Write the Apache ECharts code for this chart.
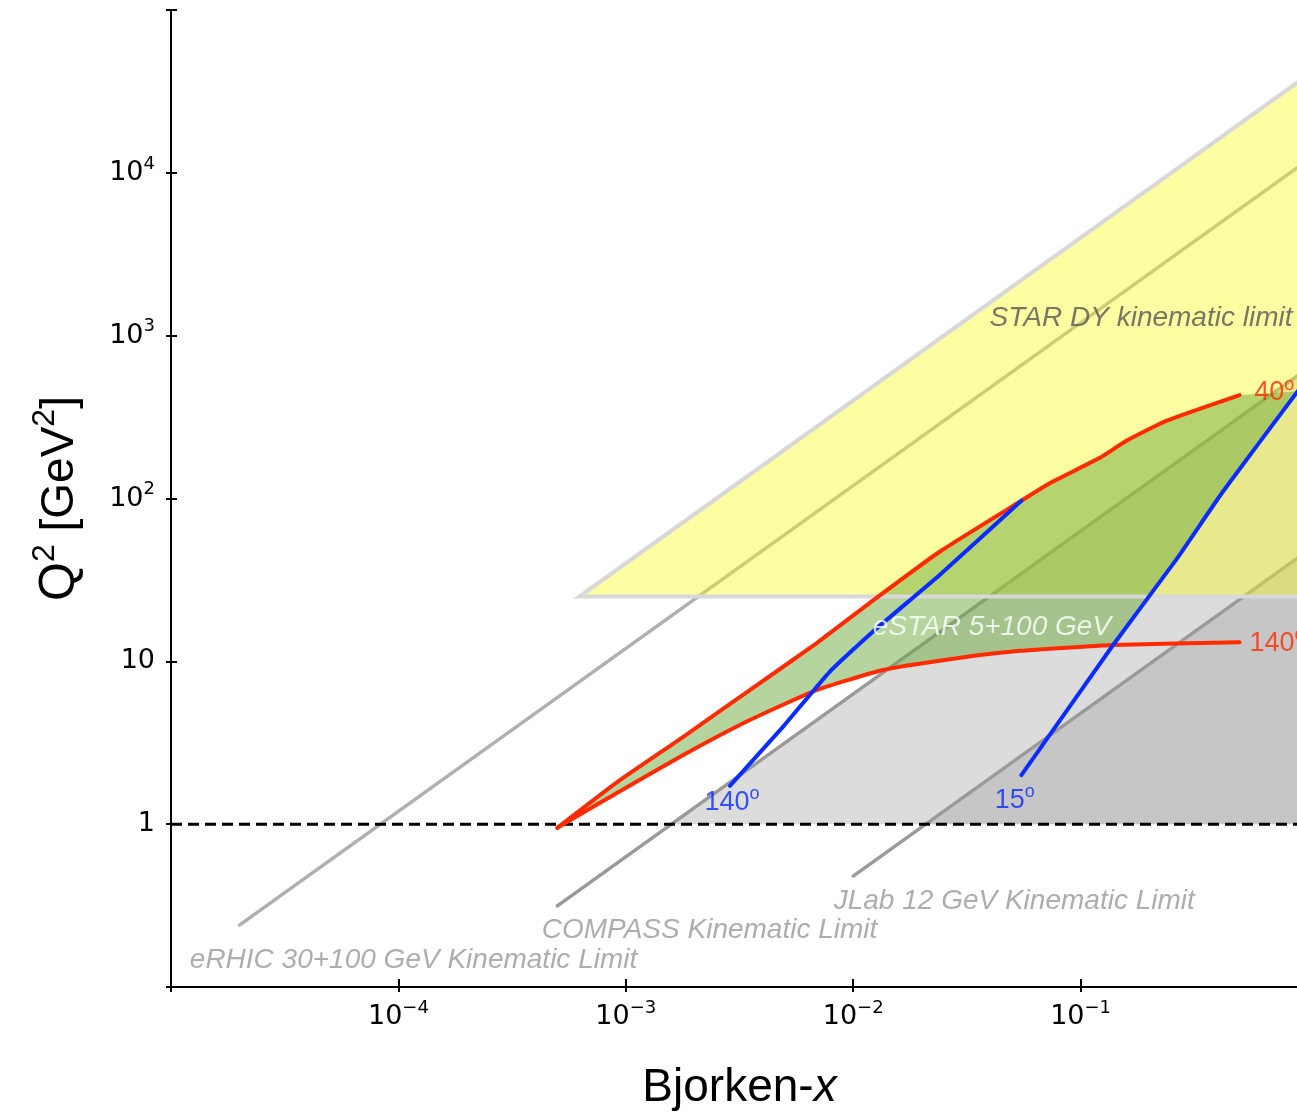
<!DOCTYPE html>
<html><head><meta charset="utf-8">
<script src="https://cdn.jsdelivr.net/npm/echarts@6/dist/echarts.min.js"></script>
<style>html,body{margin:0;padding:0;background:#fff}#c{width:1297px;height:1114px}</style>
</head><body><div id="c"></div>
<script>
// ---- tick labels (indexed by decade exponent) ----
const xTickLabels = { '-5': '', '-4': '10{s|−4}', '-3': '10{s|−3}', '-2': '10{s|−2}', '-1': '10{s|−1}', '0': '' };
const yTickLabels = { '-1': '', '0': '1', '1': '10', '2': '10{s|2}', '3': '10{s|3}', '4': '10{s|4}', '5': '' };

// ---- kinematic limit lines [x, Q2] ----
const eRHIC = [[2e-5, 0.24], [1, 12000]];
const compass = [[5e-4, 0.315], [1, 630]];
const jlab = [[1e-2, 0.48], [1, 48]];
const starDY = [[1, 40000], [6.25e-4, 25], [1, 25]];

// ---- shaded regions [x, Q2] ----
const compassRegion = [[1.59e-3, 1], [1, 1], [1, 630]];
const jlabRegion = [[2.08e-2, 1], [1, 1], [1, 48]];
const starRegion = [[6.25e-4, 25], [1, 25], [1, 40000]];

// ---- eSTAR acceptance curves [x, Q2] ----
const red40 = [[5.0e-4, 0.95], [9.1e-4, 1.8], [1.79e-3, 3.44], [3.51e-3, 6.66], [6.89e-3, 12.9],
  [1.22e-2, 23.6], [2.40e-2, 47.1], [5.49e-2, 96.9], [7.31e-2, 124], [0.121, 177], [0.159, 226], [0.238, 300], [0.5, 432]];
const red140 = [[5.0e-4, 0.95], [9.1e-4, 1.55], [1.79e-3, 2.66], [3.51e-3, 4.36], [6.89e-3, 6.66],
  [1.35e-2, 8.84], [2.66e-2, 10.3], [5.39e-2, 11.6], [0.139, 12.6], [0.5, 13.1]];
const blue140 = [[2.87e-3, 1.72], [4.91e-3, 3.96], [7.88e-3, 8.63], [1.22e-2, 15.2], [2.40e-2, 33.9], [5.49e-2, 96.9]];
const blue15 = [[5.49e-2, 2.0], [0.139, 12.6], [0.263, 42], [0.422, 110], [0.9, 455]];

// green eSTAR region built from the curves above
const estarRegion = red40
  .concat(blue15.slice(1).reverse())
  .concat(red140.filter(p => p[0] < blue15[1][0]).reverse());

// ---- text annotations: [text, anchor x, anchor Q2, style] ----
const notes = [
  ['STAR DY kinematic limit', 0.0398, 1285, 'dy'],
  ['eSTAR 5+100 GeV', 0.01218, 16.2, 'estar'],
  ['eRHIC 30+100 GeV Kinematic Limit', 1.21e-5, 0.146, 'lim'],
  ['COMPASS Kinematic Limit', 4.27e-4, 0.223, 'lim'],
  ['JLab 12 GeV Kinematic Limit', 8.21e-3, 0.336, 'lim'],
  ['140{o|o}', 2.22e-3, 1.365, 'blue'],
  ['15{o|o}', 0.0419, 1.405, 'blue'],
  ['40{o|o}', 0.58, 445, 'red'],
  ['140{o|o}', 0.553, 12.94, 'red']
];

const SANS = 'Liberation Sans, Arial, Helvetica, sans-serif';
const TICKFONT = 'DejaVu Sans, sans-serif';
function degRich(color) {
  return { o: { color: color, fontSize: 18, fontFamily: SANS, verticalAlign: 'top', lineHeight: 18 } };
}
const noteStyles = {
  dy: { color: '#555', fontSize: 28, fontStyle: 'italic', fontFamily: SANS },
  estar: { color: '#fff', fontSize: 28, fontStyle: 'italic', fontFamily: SANS },
  lim: { color: '#999', fontSize: 28, fontStyle: 'italic', fontFamily: SANS },
  blue: { color: '#0a2cff', fontSize: 27, lineHeight: 34, fontFamily: SANS, rich: degRich('#0a2cff') },
  red: { color: '#ff2a00', fontSize: 27, lineHeight: 34, fontFamily: SANS, rich: degRich('#ff2a00') }
};

function polygon(points, fill, z) {
  return {
    type: 'custom', coordinateSystem: 'cartesian2d', xAxisIndex: 0, yAxisIndex: 0,
    silent: true, z: z, clip: true, data: [points[0]],
    renderItem: function (params, api) {
      return { type: 'polygon', shape: { points: points.map(p => api.coord(p)) }, style: { fill: fill } };
    }
  };
}
function line(data, color, width, z, extra) {
  return Object.assign({
    type: 'line', data: data, xAxisIndex: 0, yAxisIndex: 0, showSymbol: false, symbol: 'none', silent: true, z: z,
    lineStyle: { color: color, width: width, cap: 'round', join: 'round' }
  }, extra || {});
}
const curve = { smooth: 0.15 };

const supRich = { s: { fontSize: 18, fontFamily: TICKFONT, color: '#000', verticalAlign: 'top', lineHeight: 18 } };

const gridBox = { left: 171, top: 10, width: 1137, height: 977, outerBoundsMode: 'none', containLabel: false };

const option = {
  animation: false,
  backgroundColor: '#fff',
  grid: [Object.assign({}, gridBox), Object.assign({}, gridBox)],
  xAxis: [{
    type: 'log', logBase: 10, min: 1e-5, max: 1, splitNumber: 5, gridIndex: 0, position: 'bottom',
    axisLine: { show: true, lineStyle: { color: '#000', width: 2 } },
    axisTick: { show: true, inside: false, length: 5, lineStyle: { color: '#000', width: 2 } },
    minorTick: { show: false }, splitLine: { show: false },
    axisLabel: {
      margin: 12, fontSize: 27, lineHeight: 36, fontFamily: TICKFONT, color: '#000', rich: supRich,
      formatter: v => { const e = Math.round(Math.log10(v)); return xTickLabels[String(e)] || ''; }
    },
    name: '{n|Bjorken-}{i|x}', nameLocation: 'middle', nameGap: 78,
    nameTextStyle: { rich: { n: { fontSize: 46, fontFamily: SANS, color: '#000' }, i: { fontSize: 46, fontFamily: SANS, fontStyle: 'italic', color: '#000' } } }
  }, {
    type: 'log', logBase: 10, min: 1e-5, max: 1, splitNumber: 5, gridIndex: 1, position: 'bottom',
    axisLine: { show: false }, axisLabel: { show: false }, splitLine: { show: false },
    axisTick: { show: true, inside: true, length: 8, lineStyle: { color: '#000', width: 2 } }
  }],
  yAxis: [{
    type: 'log', logBase: 10, min: 0.1, max: 1e5, splitNumber: 6, gridIndex: 0, position: 'left',
    axisLine: { show: true, lineStyle: { color: '#000', width: 2 } },
    axisTick: { show: true, inside: false, length: 5, lineStyle: { color: '#000', width: 2 } },
    minorTick: { show: false }, splitLine: { show: false },
    axisLabel: {
      margin: 16, fontSize: 27, lineHeight: 36, fontFamily: TICKFONT, color: '#000', rich: supRich,
      formatter: v => { const e = Math.round(Math.log10(v)); return yTickLabels[String(e)] || ''; }
    },
    name: '{q|Q}{s|2}{n| [GeV}{s|2}{n|]}', nameLocation: 'middle', nameRotate: 90, nameGap: 80,
    nameTextStyle: { rich: {
      q: { fontSize: 50, lineHeight: 62, fontFamily: SANS, color: '#000' },
      n: { fontSize: 46, lineHeight: 62, fontFamily: SANS, color: '#000' },
      s: { fontSize: 32, lineHeight: 32, fontFamily: SANS, color: '#000', verticalAlign: 'top' }
    } }
  }, {
    type: 'log', logBase: 10, min: 0.1, max: 1e5, splitNumber: 6, gridIndex: 1, position: 'left',
    axisLine: { show: false }, axisLabel: { show: false }, splitLine: { show: false },
    axisTick: { show: true, inside: true, length: 6, lineStyle: { color: '#000', width: 2 } }
  }],
  series: [
    polygon(compassRegion, 'rgba(160,160,160,0.37)', 1),
    polygon(jlabRegion, 'rgba(160,160,160,0.37)', 1),
    line(eRHIC, '#b0b0b0', 3.5, 2),
    line(compass, '#9a9a9a', 3.5, 2),
    line(jlab, '#9a9a9a', 3.5, 2),
    polygon(starRegion, 'rgba(250,250,20,0.4)', 3),
    polygon(estarRegion, 'rgba(110,170,60,0.5)', 4),
    line(starDY, '#d8d8d8', 4, 5, { lineStyle: { color: '#d8d8d8', width: 4, cap: 'butt', join: 'miter' } }),
    line([[1e-5, 1], [1, 1]], '#000', 3, 5, { lineStyle: { color: '#000', width: 3, type: [11, 6] } }),
    line(red40, '#ff2a00', 4, 6, curve),
    line(red140, '#ff2a00', 4, 6, curve),
    line(blue140, '#0a2cff', 4, 6, curve),
    line(blue15, '#0a2cff', 4, 6, curve),
    {
      type: 'scatter', xAxisIndex: 0, yAxisIndex: 0, symbolSize: 0, silent: true, z: 8, clip: false,
      data: notes.map(n => ({
        value: [n[1], n[2]],
        label: Object.assign({ show: true, position: 'right', distance: 0, formatter: n[0], verticalAlign: 'middle' }, noteStyles[n[3]])
      }))
    }
  ]
};

const chart = echarts.init(document.getElementById('c'), null, { renderer: 'canvas' });
chart.setOption(option);
</script>
</body></html>
